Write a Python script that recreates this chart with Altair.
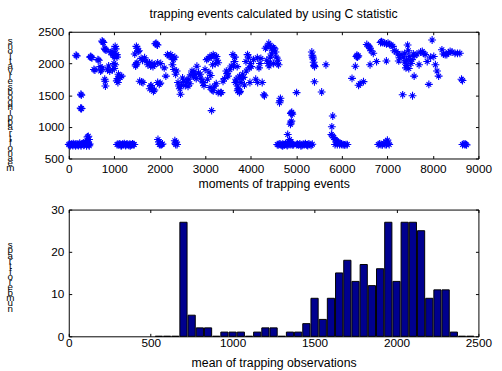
import altair as alt
import pandas as pd

# ---------------- top panel: trapping events (asterisk scatter) ----------------
# low band points (~720)
low_x = [0, 20, 40, 60, 80, 100, 120, 140, 160, 180, 200, 220, 240, 260, 280, 300, 320, 340, 360, 380,
         400, 420, 440, 460, 30, 90, 150, 210, 270, 330, 390, 450, 410, 430, 445,
         1060, 1080, 1100, 1120, 1140, 1160, 1180, 1200, 1220, 1240, 1260, 1280, 1300, 1320, 1340, 1360,
         1380, 1400, 1420, 1440, 1150, 1250, 1350,
         1960, 1980, 2000, 2020, 1990, 2040, 2060,
         2330, 2340, 2350, 2360, 2380,
         4580, 4600, 4620, 4640, 4660, 4680, 4700, 4720, 4740, 4760, 4780, 4800, 4820, 4840, 4860, 4880,
         4900, 4920, 4940, 4700, 4800, 4810, 4850, 4880,
         4880, 4890, 4870, 4880, 4900, 4890, 4910, 4640, 4650, 4630,
         5000, 5025, 5050, 5075, 5100, 5125, 5150, 5175, 5200, 5225, 5250, 5275, 5300, 5325, 5350, 5100, 5250,
         5800, 5780, 5770, 5790, 5820, 5850, 5880, 5900, 5930, 5960, 5990, 6000, 6030, 6060, 6090, 6120,
         5950, 5900, 5850,
         6800, 6830, 6860, 6890, 6920, 6950, 6970, 7000, 7020, 7040, 6980,
         8650, 8680, 8700, 8720, 8740]
low_y = [720, 730, 715, 725, 720, 735, 718, 722, 730, 715, 725, 720, 740, 718, 722, 730, 745, 720, 735, 760,
         780, 740, 720, 730, 700, 705, 700, 705, 700, 710, 700, 700, 840, 850, 800,
         720, 725, 715, 730, 720, 710, 725, 720, 735, 715, 720, 730, 720, 710, 725, 720,
         715, 730, 720, 720, 700, 705, 700,
         800, 760, 730, 720, 720, 720, 730,
         780, 740, 720, 760, 720,
         720, 715, 725, 730, 720, 710, 725, 720, 715, 730, 720, 740, 720, 760, 725, 720,
         730, 715, 720, 700, 705, 880, 800, 760,
         1060, 1090, 1040, 1210, 1230, 1220, 1200, 1410, 1450, 1380,
         720, 725, 715, 730, 720, 710, 725, 720, 735, 715, 720, 730, 720, 710, 725, 700, 705,
         1170, 1000, 880, 860, 830, 800, 780, 760, 750, 740, 730, 720, 720, 715, 720, 720,
         720, 720, 720,
         720, 730, 720, 715, 740, 720, 760, 790, 740, 720, 720,
         720, 730, 720, 725, 715]

# upper cloud points
up_x = [160, 175, 267, 275, 262, 270, 282,
        470, 482, 495, 510, 553, 575,
        640, 661, 690, 700, 733, 720, 733, 745, 760, 790, 800, 820, 790, 800, 805,
        850, 876, 900, 920, 948, 960, 980, 1000, 1010, 1020, 1030, 990, 1020, 1000, 960, 1055, 1060,
        1055, 1070, 1092, 1110, 1130, 1163, 1080,
        1450, 1486, 1500, 1522, 1540, 1470, 1486, 1500, 1470,
        1558, 1600, 1630, 1590, 1620, 1666, 1700, 1738, 1774, 1800, 1830, 1882, 1850,
        1900, 1917, 1935, 1950, 1800, 1780, 1845, 1860, 1880, 1810,
        1953, 1989, 2010, 1953, 2020,
        2097, 2133, 2168, 2200, 2240, 2260, 2276, 2312, 2300, 2330, 2348, 2370, 2400, 2420, 2455, 2440,
        2480, 2527, 2560, 2580, 2600, 2635, 2660, 2707, 2740, 2779, 2800, 2815, 2850, 2886, 2900, 2930,
        2958, 2994, 2970, 2750, 2680, 2620, 2500,
        3030, 3060, 3102, 3140, 3174, 3210, 3246, 3282, 3260, 3080, 3120, 3102, 3150, 3174, 3138, 3200,
        3240, 3282, 3330, 3353, 3389, 3420, 3461, 3497, 3480, 3050, 3160, 3220,
        3540, 3569, 3605, 3641, 3620, 3676, 3660, 3690, 3712, 3720, 3748, 3730, 3712, 3760, 3784, 3800,
        3820, 3840, 3860, 3892, 3928, 3950, 3963, 3990, 4010, 3700, 3750, 3650, 3900, 3980,
        4060, 4107, 4143, 4150, 4179, 4200, 4220, 4250, 4286, 4300, 4322, 4350, 4394, 4420, 4465, 4380,
        4400, 4430, 4450, 4480, 4500, 4520, 4540, 4560, 4580, 4600, 4610, 4350, 4420, 4500,
        5005, 5340, 5350, 5360, 5370, 5380, 5390, 5400, 5398, 5556, 5650,
        6223, 6296, 6320, 6331, 6345, 6360, 6367, 6400, 6475, 6547, 6580, 6600, 6619, 6640, 6690, 6619,
        6762, 6850, 6870, 6900, 6940, 6980, 7014, 7050, 7080, 6978, 7121, 7150, 7193, 7230, 7265, 7300,
        7336, 7350, 7380, 7408, 7430, 7444, 7460, 7480, 7500, 7520, 7540, 7552, 7570, 7588, 7600, 7650,
        7696, 7730, 7767, 7800, 7830, 7875, 7911, 7950, 7983, 8019, 8055, 8090, 8126, 8198, 8230, 8270,
        8306, 8340, 8378, 8420, 8485, 8540, 8593, 8628, 8650, 7420, 7470, 7380, 7250]
up_y = [2130, 2120, 1515, 1500, 1295, 1285, 1290,
        2100, 2110, 2095, 2090, 1905, 1895,
        2060, 2050, 1950, 1880, 1930, 1900, 2355, 2340, 2330, 2240, 2220, 2210, 1750, 1720, 1645,
        1900, 1960, 1880, 2170, 2190, 2150, 2130, 2100, 2160, 2270, 2230, 2000, 1980, 1920, 1900, 2140, 2100,
        1725, 1760, 1830, 1800, 1780, 1800, 1700,
        2150, 2270, 2240, 2190, 2200, 1980, 1990, 2010, 1960,
        1720, 1710, 1700, 2080, 2050, 2090, 2040, 1980, 2010, 1960, 2000, 1980, 1950,
        2310, 2320, 2300, 2290, 1645, 1600, 1595, 1560, 1580, 1650,
        1700, 1670, 1690, 2010, 2000,
        1930, 1800, 2140, 2120, 2140, 2100, 1980, 1905, 2060, 2100, 1830, 1880, 1700, 1645, 1515, 1600,
        1660, 1720, 1650, 1700, 1740, 1750, 1680, 1880, 1800, 1830, 1760, 1956, 1850, 1830, 1770, 1720,
        1700, 1905, 1650, 1870, 1820, 1640, 1770,
        2060, 2080, 2110, 2100, 2140, 2120, 2110, 2010, 2050, 1860, 1810, 1620, 1580, 1570, 1256, 1640,
        1680, 1540, 1540, 1540, 1720, 1760, 1880, 1800, 1840, 1750, 1980, 2000,
        1900, 1960, 2140, 2030, 1950, 1750, 1700, 1720, 1645, 1600, 1540, 1580, 1568, 1560, 1700, 1760,
        1830, 1780, 1660, 2030, 2140, 2100, 1930, 2000, 1950, 1950, 1800, 2100, 1880, 1700,
        2060, 1750, 2090, 1700, 1930, 2000, 2080, 1700, 1505, 1490, 2240, 2260, 2320, 2280, 2240, 2000,
        1960, 2100, 2150, 2200, 2250, 2230, 2180, 2100, 2000, 2050, 1980, 2050, 2010, 2000,
        1540, 2180, 2130, 2100, 2070, 2020, 1970, 1950, 1710, 1550, 1980,
        1765, 1956, 2110, 2130, 2100, 2120, 1656, 1680, 1713, 2300, 2280, 2260, 2240, 2200, 2160, 1980,
        2030, 2330, 2345, 2330, 2320, 2310, 2320, 2300, 2290, 2040, 2270, 2200, 2190, 2150, 2090, 2140,
        1505, 2100, 2160, 1930, 1970, 2290, 2200, 2110, 2050, 2000, 2060, 1490, 2150, 1800, 2120, 2150,
        1980, 2180, 2190, 2160, 2140, 2030, 1670, 2100, 2370, 2110, 1980, 1880, 1800, 2215, 2150, 2140,
        2140, 2170, 2190, 2180, 2160, 2160, 2160, 1750, 1730, 2050, 1920, 2020, 2040]

top_x_ticks = [0, 1000, 2000, 3000, 4000, 5000, 6000, 7000, 8000, 9000]
top_y_ticks = [500, 1000, 1500, 2000, 2500]

# ---------------- bottom panel: histogram ----------------
hist_centers = [550, 600, 650, 700, 750, 800, 850, 900, 950, 1000, 1050, 1100, 1150, 1200, 1250, 1300,
                1350, 1400, 1450, 1500, 1550, 1600, 1650, 1700, 1750, 1800, 1850, 1900, 1950, 2000, 2050,
                2100, 2150, 2200, 2250, 2300, 2350, 2400, 2450]
hist_counts = [0, 0, 0, 27, 5, 2, 2, 0, 1, 1, 1, 0, 1, 2, 2, 0,
               1, 1, 3, 9, 4, 9, 15, 18, 13, 17, 12, 16, 27, 13, 27,
               27, 25, 9, 11, 11, 1, 0, 0]
bot_x_ticks = [0, 500, 1000, 1500, 2000, 2500]
bot_y_ticks = [0, 10, 20, 30]

top_title = "trapping events calculated by using C statistic"
top_xlabel = "moments of trapping events"
top_ylabel = list(reversed("mean of trapping observations"))
bot_xlabel = "mean of trapping observations"
bot_ylabel = list(reversed("number of traps"))

FONT = "Liberation Sans"
W, H = 417, 129

scatter_df = pd.DataFrame({"t": low_x + up_x, "m": low_y + up_y})
hist_df = pd.DataFrame({"c": hist_centers, "n": hist_counts})

asterisk = "M-1,0L1,0M0,-1L0,1M-0.6,-0.6L0.6,0.6M-0.6,0.6L0.6,-0.6"

common_axis = dict(format="d", grid=True, gridColor="black", gridOpacity=1,
                   labelFlush=False, labelOverlap=False)

top = alt.Chart(scatter_df).mark_point(
    shape=asterisk, size=64, filled=False, strokeWidth=1.1, color="#0000ff", opacity=1
).encode(
    x=alt.X("t:Q", scale=alt.Scale(domain=[0, 9000], nice=False, zero=False),
            axis=alt.Axis(values=top_x_ticks, title=top_xlabel, gridDash=[3, H - 6],
                          labelPadding=5.5, titlePadding=3, **common_axis)),
    y=alt.Y("m:Q", scale=alt.Scale(domain=[500, 2500], nice=False, zero=False),
            axis=alt.Axis(values=top_y_ticks, title=top_ylabel, gridDash=[3, W - 6],
                          labelPadding=5,
                          titleAngle=0, titleAlign="center", titleBaseline="alphabetic",
                          titleX=-60, titleY=11.5, titleLineHeight=5.2, titleFontSize=10,
                          **common_axis)),
).properties(
    width=W, height=H,
    title=alt.TitleParams(top_title, font=FONT, fontSize=12.5, fontWeight="normal",
                          color="black", anchor="middle", offset=6, frame="group"),
)

bottom = alt.Chart(hist_df).transform_calculate(
    lo="datum.c - 22", hi="datum.c + 22"
).mark_bar(color="#00008f", stroke="black", strokeWidth=1).encode(
    x=alt.X("lo:Q", scale=alt.Scale(domain=[0, 2500], nice=False, zero=False),
            axis=alt.Axis(values=bot_x_ticks, title=bot_xlabel, gridDash=[3, H - 6],
                          labelPadding=1, titlePadding=9, **common_axis)),
    x2="hi:Q",
    y=alt.Y("n:Q", scale=alt.Scale(domain=[0, 30], nice=False),
            axis=alt.Axis(values=bot_y_ticks, title=bot_ylabel, gridDash=[3, W - 6],
                          labelPadding=5,
                          titleAngle=0, titleAlign="center", titleBaseline="alphabetic",
                          titleX=-60, titleY=38.6, titleLineHeight=5.4, titleFontSize=10,
                          **common_axis)),
    y2=alt.datum(0),
).properties(width=W, height=H)

chart = alt.vconcat(top, bottom, spacing=12).properties(
    padding={"left": 5, "top": 4, "right": 10, "bottom": 0},
    background="white",
).configure_view(
    stroke="black", strokeWidth=1
).configure_axis(
    domain=False, ticks=False, tickSize=0,
    labelFont=FONT, labelFontSize=12, labelColor="black",
    titleFont=FONT, titleFontSize=12.5, titleFontWeight="normal", titleColor="black",
)

chart.save("out.html", embed_options={"renderer": "svg", "actions": False})
